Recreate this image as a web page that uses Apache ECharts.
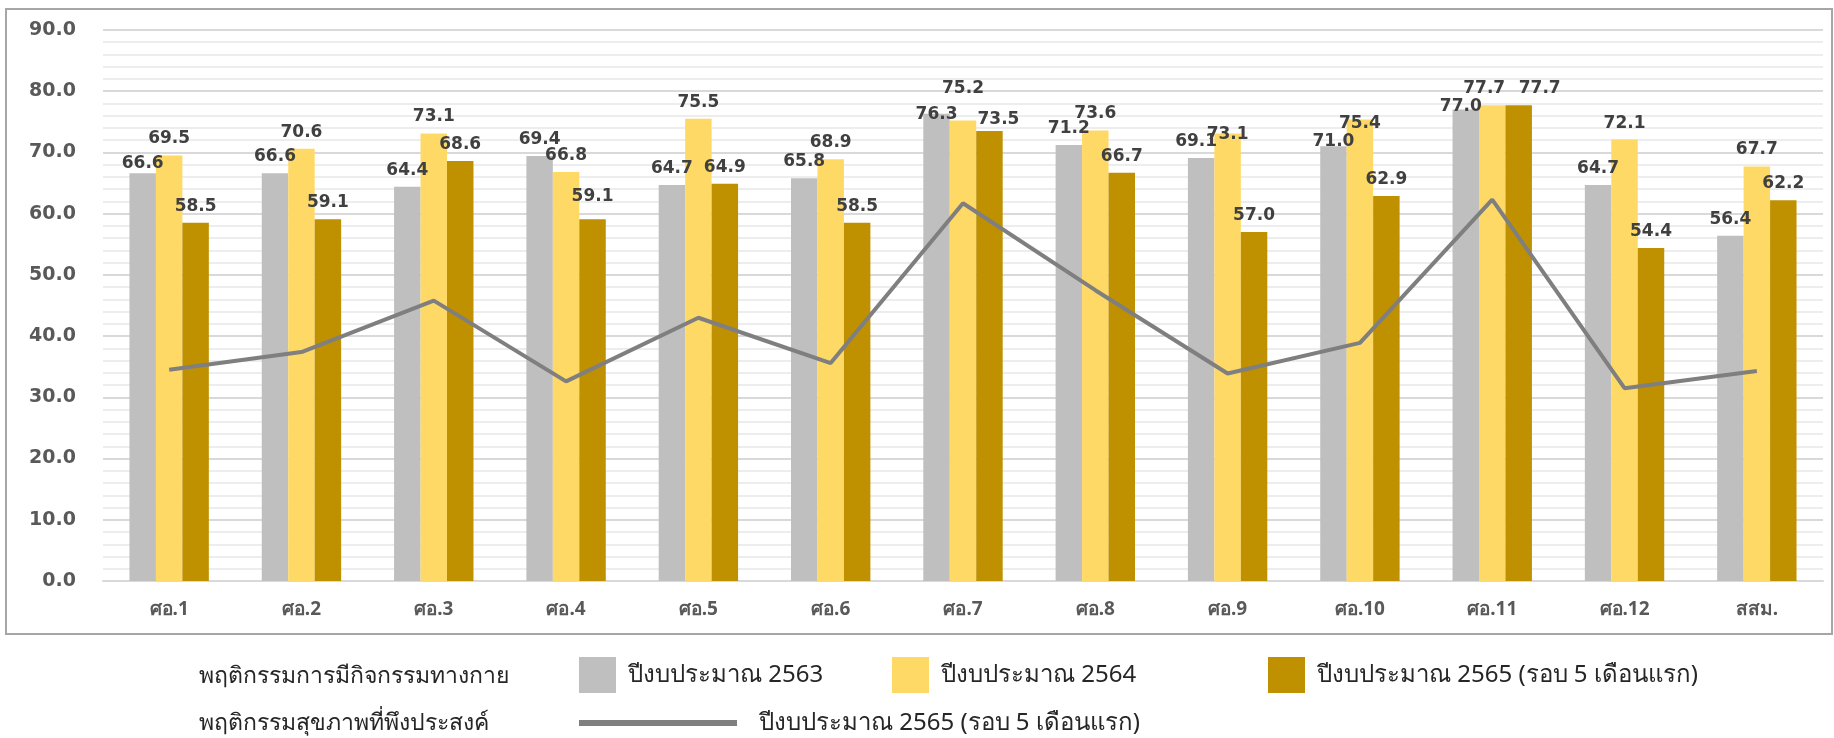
<!DOCTYPE html>
<html><head><meta charset="utf-8">
<script src="https://cdn.jsdelivr.net/npm/echarts@6/dist/echarts.min.js"></script>
<style>html,body{margin:0;padding:0;background:#fff}#c{width:1834px;height:738px}</style>
</head><body><div id="c"></div>
<script>
var categories = ['ศอ.1','ศอ.2','ศอ.3','ศอ.4','ศอ.5','ศอ.6','ศอ.7','ศอ.8','ศอ.9','ศอ.10','ศอ.11','ศอ.12','สสม.'];
var budget2563 = [66.6,66.6,64.4,69.4,64.7,65.8,76.3,71.2,69.1,71.0,77.0,64.7,56.4];
var budget2564 = [69.5,70.6,73.1,66.8,75.5,68.9,75.2,73.6,73.1,75.4,77.7,72.1,67.7];
var budget2565 = [58.5,59.1,68.6,59.1,64.9,58.5,73.5,66.7,57.0,62.9,77.7,54.4,62.2];
var healthBehaviour2565 = [34.5,37.4,45.8,32.6,43.0,35.6,61.7,47.5,33.9,38.9,62.3,31.5,34.3];
var yTicks = {min:0, max:90, interval:10};

var nameA = 'ปีงบประมาณ 2563';
var nameB = 'ปีงบประมาณ 2564';
var nameC = 'ปีงบประมาณ 2565 (รอบ 5 เดือนแรก)';
var nameLine = 'พฤติกรรมสุขภาพที่พึงประสงค์';
var rowHead1 = 'พฤติกรรมการมีกิจกรรมทางกาย';
var rowHead2 = 'พฤติกรรมสุขภาพที่พึงประสงค์';

// manual label nudges (pixel offsets) as in the original layout, keyed by category index
var labelNudgesA = {0:[0,7], 6:[0,17], 8:[-5,0], 9:[0,12], 10:[-5,13]};
var labelNudgesB = {6:[0,-16], 8:[0,18], 9:[0,21], 10:[-8,0]};
var labelNudgesC = {3:[0,-6], 6:[9,5], 10:[21,0]};

var numFont = 'DejaVu Sans';
var thaiFont = 'Noto Sans, DejaVu Sans, sans-serif';

function barLabel() {
  return {show:true, position:'top', distance:8, color:'#404040', fontFamily:numFont,
          fontWeight:'bold', fontSize:17, formatter:function(p){return Number(p.value).toFixed(1);}};
}
function withNudges(values, nudges) {
  return values.map(function(v, i){
    if (nudges[i]) return {value:v, label:{offset:nudges[i]}};
    return v;
  });
}

var chart = echarts.init(document.getElementById('c'), null, {renderer:'canvas'});
var legendText = {fontFamily:thaiFont, fontSize:24, color:'#262626', padding:[0,0,0,7]};
var legendBase = {orient:'horizontal', top:657, itemHeight:36, padding:0,
  textStyle:legendText, selectedMode:false, icon:'rect'};
chart.setOption({
  animation:false,
  backgroundColor:'#fff',
  grid:{left:103, right:11, top:30, bottom:157, containLabel:false},
  xAxis:{type:'category', data:categories,
    axisLine:{show:true, lineStyle:{color:'#d9d9d9', width:2}},
    axisTick:{show:false},
    axisLabel:{margin:19, color:'#595959', fontFamily:thaiFont, fontWeight:'bold', fontSize:19}},
  yAxis:{type:'value', min:yTicks.min, max:yTicks.max, interval:yTicks.interval,
    axisLine:{show:false}, axisTick:{show:false},
    axisLabel:{margin:27, color:'#595959', fontFamily:numFont, fontWeight:'bold', fontSize:19,
      formatter:function(v){return v.toFixed(1);}},
    splitLine:{show:true, lineStyle:{color:'#d9d9d9', width:2}},
    minorTick:{show:false, splitNumber:5},
    minorSplitLine:{show:true, lineStyle:{color:'#ededed', width:2}}},
  legend:[
    Object.assign({}, legendBase, {left:579, data:[nameA], itemWidth:37}),
    Object.assign({}, legendBase, {left:892, data:[nameB], itemWidth:37}),
    Object.assign({}, legendBase, {left:1268, data:[nameC], itemWidth:37}),
    Object.assign({}, legendBase, {left:579, top:711, data:[nameLine], itemWidth:158, itemHeight:6,
       formatter:function(){return nameC;}, textStyle:Object.assign({}, legendText, {padding:[0,0,0,17]})})
  ],
  graphic:[
    {type:'rect', shape:{x:6, y:9, width:1826, height:625}, style:{fill:'none', stroke:'#a6a6a6', lineWidth:2}, silent:true},
    {type:'text', x:199, y:676, style:{text:rowHead1, font:'23px ' + thaiFont, fill:'#262626', verticalAlign:'middle'}},
    {type:'text', x:199, y:723, style:{text:rowHead2, font:'23px ' + thaiFont, fill:'#262626', verticalAlign:'middle'}}
  ],
  series:[
    {name:nameA, type:'bar', data:withNudges(budget2563, labelNudgesA), barGap:'0%', barCategoryGap:'40%',
      itemStyle:{color:'#bfbfbf'}, label:barLabel()},
    {name:nameB, type:'bar', data:withNudges(budget2564, labelNudgesB), barGap:'0%', barCategoryGap:'40%',
      itemStyle:{color:'#ffd966'}, label:barLabel()},
    {name:nameC, type:'bar', data:withNudges(budget2565, labelNudgesC), barGap:'0%', barCategoryGap:'40%',
      itemStyle:{color:'#bf9000'}, label:barLabel()},
    {name:nameLine, type:'line', data:healthBehaviour2565, z:5, symbol:'none',
      lineStyle:{color:'#7f7f7f', width:4}, itemStyle:{color:'#7f7f7f'}}
  ]
});
</script></body></html>
